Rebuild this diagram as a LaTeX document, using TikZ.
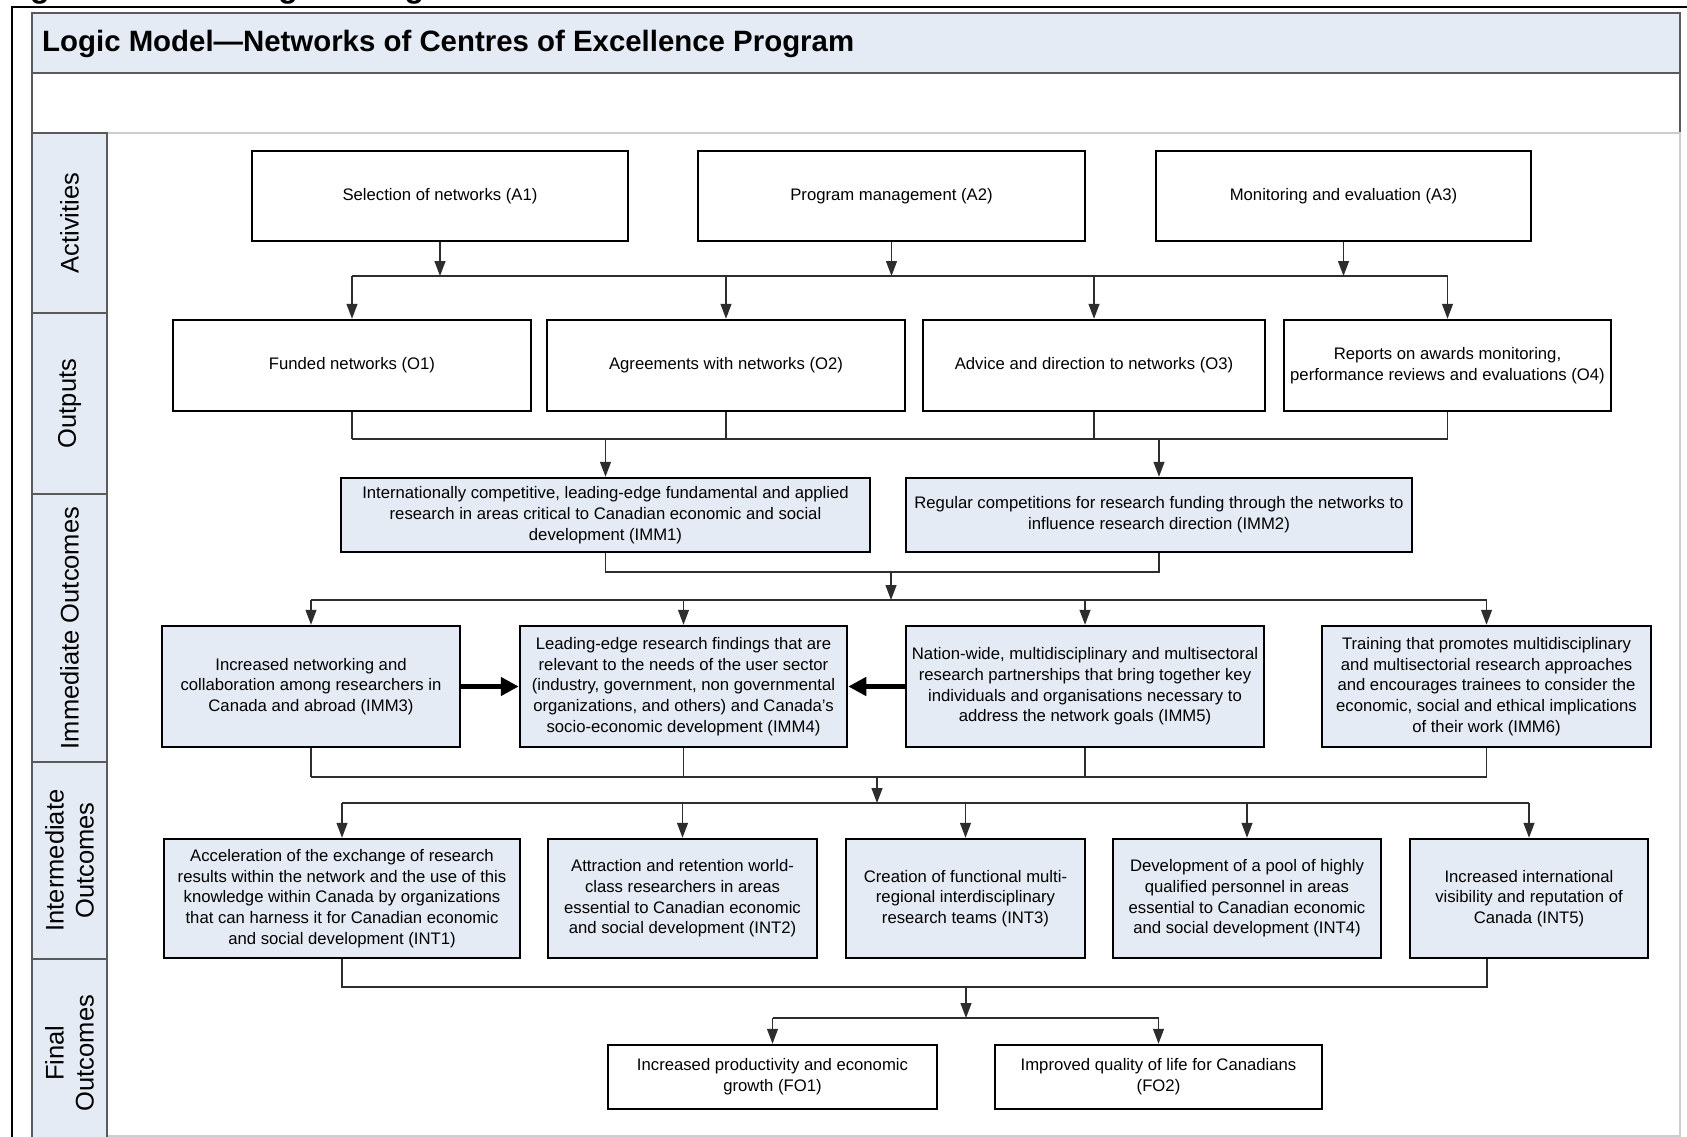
\documentclass[tikz,border=0pt]{standalone}
\usepackage{fontspec}
\setmainfont{Liberation Sans}
\usetikzlibrary{arrows.meta}

\definecolor{boxblue}{RGB}{229,235,245}
\definecolor{edgegrey}{RGB}{90,90,90}
\definecolor{areagrey}{RGB}{205,205,205}
\definecolor{linkgrey}{RGB}{45,45,45}

\tikzset{
  >={Triangle[length=15pt,width=11pt]},
  plainbox/.style={draw=black, line width=2.5pt, fill=white, align=center, inner sep=2pt,
    font=\fontsize{16.7}{20.7}\selectfont},
  bluebox/.style={plainbox, fill=boxblue},
  link/.style={draw=linkgrey, line width=1.3pt},
  bigarrow/.style={draw=black, line width=4.5pt, -{Triangle[length=18pt,width=18pt]}},
  sidecell/.style={draw=edgegrey, line width=1.3pt, fill=boxblue, rotate=90, align=center,
    inner sep=0pt, minimum height=75pt, font=\fontsize{25.5}{30}\selectfont},
  titlebar/.style={draw=edgegrey, line width=1.3pt, fill=boxblue},
  titletext/.style={font=\fontsize{29.4}{34}\selectfont\bfseries, inner sep=0pt}
}

\begin{document}
\begin{tikzpicture}[x=1pt,y=-1pt]
\useasboundingbox (0,0) rectangle (1687,1137);
% caption, cut by the page edge
\node[font=\fontsize{32}{36}\selectfont\bfseries, inner sep=0pt, anchor=base west] (cap) at (1.5,-2.5) {Figure 1: NCE Program Logic Model};
% frame, heading and area
\draw[line width=1.5pt] (12,1170) -- (12,7) -- (1720,7);
\node[titlebar, minimum width=1648pt, minimum height=60pt] (head) at (856,43) {};
\node[titletext, anchor=base west] (headtext) at (42,52) {Logic Model—Networks of Centres of Excellence Program};
\draw[edgegrey, line width=1.3pt] (32,73) -- (32,133);
\draw[edgegrey, line width=1.3pt] (1680,73) -- (1680,133);
\draw[areagrey, line width=1.3pt] (32,133) -- (1680,133) -- (1680,1136) -- (107,1136);

% row labels
\node[sidecell, minimum width=180pt] (sact) at (69.5,223) {Activities};
\node[sidecell, minimum width=181pt] (sout) at (69.5,403.5) {Outputs};
\node[sidecell, minimum width=268pt] (simm) at (69.5,628) {Immediate Outcomes};
\node[sidecell, minimum width=197pt] (sint) at (69.5,860.5) {Intermediate\\Outcomes};
\node[sidecell, minimum width=188pt] (sfin) at (69.5,1053) {Final\\Outcomes};

% activities
\node[plainbox, minimum width=376pt, minimum height=90pt] (a1) at (440,196) {Selection of networks (A1)};
\node[plainbox, minimum width=387pt, minimum height=90pt] (a2) at (891.5,196) {Program management (A2)};
\node[plainbox, minimum width=375pt, minimum height=90pt] (a3) at (1343.5,196) {Monitoring and evaluation (A3)};

% outputs
\node[plainbox, minimum width=358pt, minimum height=91pt] (o1) at (352,365.5) {Funded networks (O1)};
\node[plainbox, minimum width=358pt, minimum height=91pt] (o2) at (726,365.5) {Agreements with networks (O2)};
\node[plainbox, minimum width=342pt, minimum height=91pt] (o3) at (1094,365.5) {Advice and direction to networks (O3)};
\node[plainbox, minimum width=327pt, minimum height=91pt] (o4) at (1447.5,365.5) {Reports on awards monitoring,\\performance reviews and evaluations (O4)};

% immediate outcomes
\node[bluebox, minimum width=529pt, minimum height=74pt] (imm1) at (605.5,515) {Internationally competitive, leading-edge fundamental and applied\\research in areas critical to Canadian economic and social\\development (IMM1)};
\node[bluebox, minimum width=506pt, minimum height=74pt] (imm2) at (1159,515) {Regular competitions for research funding through the networks to\\influence research direction (IMM2)};
\node[bluebox, minimum width=298pt, minimum height=121pt] (imm3) at (311,686.5) {Increased networking and\\collaboration among researchers in\\Canada and abroad (IMM3)};
\node[bluebox, minimum width=327pt, minimum height=121pt] (imm4) at (683.5,686.5) {Leading-edge research findings that are\\relevant to the needs of the user sector\\(industry, government, non governmental\\organizations, and others) and Canada’s\\socio-economic development (IMM4)};
\node[bluebox, minimum width=358pt, minimum height=121pt] (imm5) at (1085,686.5) {Nation-wide, multidisciplinary and multisectoral\\research partnerships that bring together key\\individuals and organisations necessary to\\address the network goals (IMM5)};
\node[bluebox, minimum width=329pt, minimum height=121pt] (imm6) at (1486.5,686.5) {Training that promotes multidisciplinary\\and multisectorial research approaches\\and encourages trainees to consider the\\economic, social and ethical implications\\of their work (IMM6)};

% intermediate outcomes
\node[bluebox, minimum width=356pt, minimum height=119pt] (int1) at (342,898.5) {Acceleration of the exchange of research\\results within the network and the use of this\\knowledge within Canada by organizations\\that can harness it for Canadian economic\\and social development (INT1)};
\node[bluebox, minimum width=269pt, minimum height=119pt] (int2) at (682.5,898.5) {Attraction and retention world-\\class researchers in areas\\essential to Canadian economic\\and social development (INT2)};
\node[bluebox, minimum width=239pt, minimum height=119pt] (int3) at (965.5,898.5) {Creation of functional multi-\\regional interdisciplinary\\research teams (INT3)};
\node[bluebox, minimum width=268pt, minimum height=119pt] (int4) at (1247,898.5) {Development of a pool of highly\\qualified personnel in areas\\essential to Canadian economic\\and social development (INT4)};
\node[bluebox, minimum width=238pt, minimum height=119pt] (int5) at (1529,898.5) {Increased international\\visibility and reputation of\\Canada (INT5)};

% final outcomes
\node[plainbox, minimum width=329pt, minimum height=64pt] (fo1) at (772.5,1077) {Increased productivity and economic\\growth (FO1)};
\node[plainbox, minimum width=327pt, minimum height=64pt] (fo2) at (1158.5,1077) {Improved quality of life for Canadians\\(FO2)};

% activities -> outputs
\coordinate (abus) at (0,276);
\foreach \n in {a1,a2,a3} \draw[link,->] (\n.south) -- (\n.south |- abus);
\draw[link] (o1.north |- abus) -- (o4.north |- abus);
\foreach \n in {o1,o2,o3,o4} \draw[link,->] (\n.north |- abus) -- (\n.north);

% outputs -> IMM1, IMM2
\coordinate (obus) at (0,439);
\foreach \n in {o1,o2,o3,o4} \draw[link] (\n.south) -- (\n.south |- obus);
\draw[link] (o1.south |- obus) -- (o4.south |- obus);
\foreach \n in {imm1,imm2} \draw[link,->] (\n.north |- obus) -- (\n.north);

% IMM1, IMM2 -> IMM3..IMM6
\coordinate (ijoin) at (891,572);
\coordinate (ibus) at (0,600);
\draw[link] (imm1.south) |- (ijoin) -| (imm2.south);
\draw[link,->] (ijoin) -- (ijoin |- ibus);
\draw[link] (imm3.north |- ibus) -- (imm6.north |- ibus);
\foreach \n in {imm3,imm4,imm5,imm6} \draw[link,->] (\n.north |- ibus) -- (\n.north);
\draw[bigarrow] (imm3.east) -- (imm4.west);
\draw[bigarrow] (imm5.west) -- (imm4.east);

% immediate -> intermediate
\coordinate (mbus) at (0,777);
\coordinate (mjoin) at (877,777);
\coordinate (nbus) at (0,803);
\foreach \n in {imm3,imm4,imm5,imm6} \draw[link] (\n.south) -- (\n.south |- mbus);
\draw[link] (imm3.south |- mbus) -- (imm6.south |- mbus);
\draw[link,->] (mjoin) -- (mjoin |- nbus);
\draw[link] (int1.north |- nbus) -- (int5.north |- nbus);
\foreach \n in {int1,int2,int3,int4,int5} \draw[link,->] (\n.north |- nbus) -- (\n.north);

% intermediate -> final
\coordinate (int5out) at ([xshift=-42pt]int5.south);
\coordinate (fbus) at (0,987);
\coordinate (fjoin) at (966,987);
\coordinate (gbus) at (0,1018);
\draw[link] (int1.south) -- (int1.south |- fbus) -- (int5out |- fbus) -- (int5out);
\draw[link,->] (fjoin) -- (fjoin |- gbus);
\draw[link] (fo1.north |- gbus) -- (fo2.north |- gbus);
\foreach \n in {fo1,fo2} \draw[link,->] (\n.north |- gbus) -- (\n.north);
\end{tikzpicture}
\end{document}
